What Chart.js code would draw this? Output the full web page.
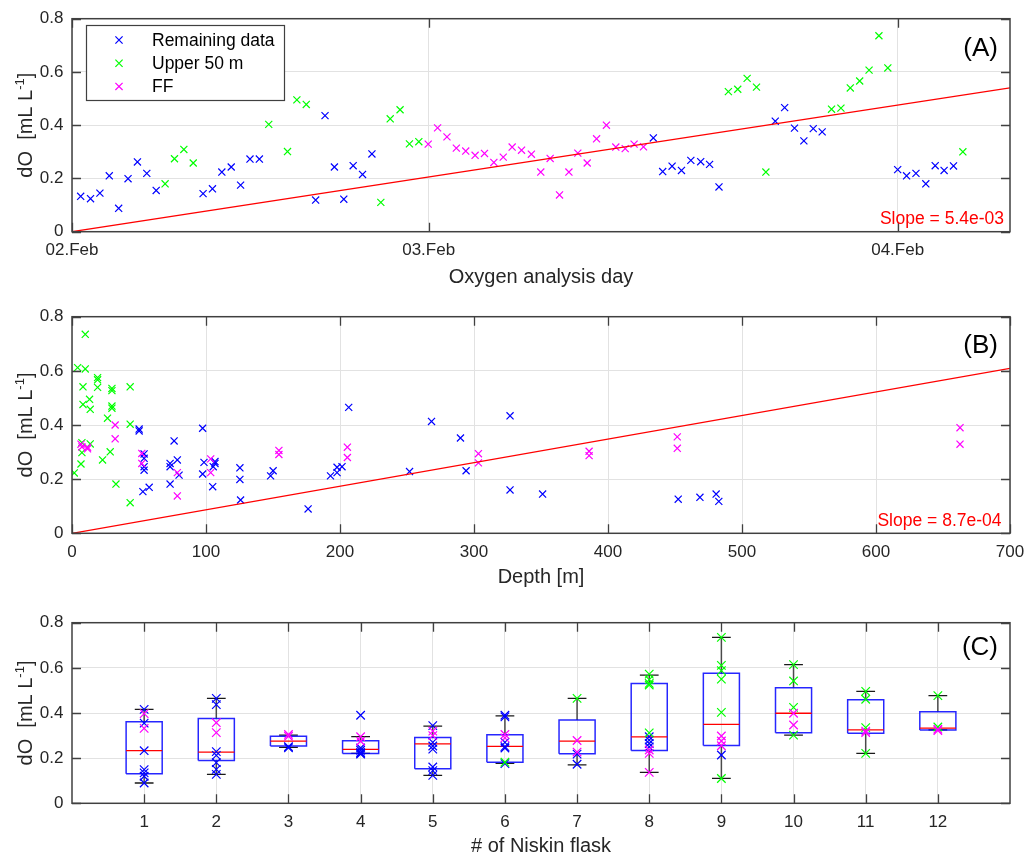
<!DOCTYPE html>
<html>
<head>
<meta charset="utf-8">
<script src="https://cdn.jsdelivr.net/npm/chart.js@4.4.1/dist/chart.umd.min.js"></script>
<style>
  html, body { margin: 0; padding: 0; background: #ffffff; }
  #wrap { position: relative; width: 1028px; height: 859px; overflow: hidden; }
  canvas { position: absolute; left: 0; }
</style>
</head>
<body>
<div id="wrap">
  <canvas id="cA" width="1028" height="290" style="top:0px;width:1028px;height:290px"></canvas>
  <canvas id="cB" width="1028" height="300" style="top:290px;width:1028px;height:300px"></canvas>
  <canvas id="cC" width="1028" height="269" style="top:590px;width:1028px;height:269px"></canvas>
</div>
<script>
// ---------- Panel A: dO against oxygen analysis time (day of February) ----------
const dayRemaining = [2.258, 2.279, 2.299, 2.319, 2.339, 2.359, 2.379, 2.399, 2.419,
  2.519, 2.539, 2.559, 2.579, 2.599, 2.619, 2.639,
  2.759, 2.779, 2.799, 2.819, 2.839, 2.859, 2.879,
  3.479, 3.499, 3.519, 3.539, 3.559, 3.580, 3.599, 3.619,
  3.739, 3.759, 3.780, 3.800, 3.820, 3.839,
  4.000, 4.019, 4.039, 4.060, 4.080, 4.099, 4.119];
const dORemaining = [0.133, 0.124, 0.145, 0.210, 0.088, 0.199, 0.262, 0.219, 0.155,
  0.143, 0.161, 0.224, 0.243, 0.175, 0.273, 0.273,
  0.119, 0.436, 0.243, 0.122, 0.248, 0.215, 0.292,
  0.352, 0.226, 0.246, 0.230, 0.268, 0.263, 0.253, 0.168,
  0.415, 0.466, 0.389, 0.341, 0.387, 0.375,
  0.233, 0.210, 0.219, 0.180, 0.248, 0.230, 0.247];

const dayUpper = [2.438, 2.458, 2.478, 2.498, 2.659, 2.699, 2.719, 2.739,
  2.898, 2.918, 2.939, 2.959, 2.979,
  3.639, 3.659, 3.679, 3.699, 3.719,
  3.859, 3.879, 3.899, 3.919, 3.939, 3.960, 3.979, 4.139];
const dOUpper = [0.180, 0.274, 0.309, 0.258, 0.403, 0.301, 0.495, 0.478,
  0.110, 0.424, 0.458, 0.330, 0.338,
  0.526, 0.535, 0.576, 0.543, 0.224,
  0.460, 0.464, 0.540, 0.566, 0.607, 0.736, 0.615, 0.300];

const dayFF = [2.999, 3.019, 3.039, 3.059, 3.079, 3.099, 3.119, 3.139, 3.159, 3.178,
  3.198, 3.219, 3.239, 3.259, 3.279, 3.299, 3.318, 3.338, 3.358, 3.379,
  3.399, 3.419, 3.438, 3.458];
const dOFF = [0.329, 0.390, 0.356, 0.314, 0.303, 0.287, 0.294, 0.260, 0.280, 0.318,
  0.306, 0.291, 0.224, 0.275, 0.138, 0.224, 0.295, 0.258, 0.349, 0.400,
  0.318, 0.312, 0.329, 0.319];

const dayRange = [2.2395, 4.2395];
const dayTicks = [2.2395, 3, 4];
const dayTickLabels = ['02.Feb', '03.Feb', '04.Feb'];
const slopeA = 5.4e-3;        // per sample
const sampleStepDays = 0.02;  // one sample every 0.02 day

// ---------- Panel B: dO against depth ----------
const depthRemaining = [50.1, 50.1, 53.8, 53.8, 53.8, 53.8, 52.9, 57.6, 73.2, 73.2,
  76.2, 78.6, 73.2, 79.9, 97.5, 97.5, 98.5, 105.0, 105.4, 106.7,
  106.7, 125.3, 125.3, 125.8, 148.2, 150.1, 176.2, 192.9, 197.8, 197.8,
  201.5, 206.5, 251.9, 268.3, 289.9, 294.1, 326.9, 326.9, 351.2, 452.4,
  468.6, 480.7, 482.7];
const dOByDepthRemaining = [0.385, 0.378, 0.293, 0.277, 0.246, 0.233, 0.154, 0.170, 0.258, 0.246,
  0.341, 0.271, 0.182, 0.215, 0.388, 0.219, 0.262, 0.172, 0.246, 0.258,
  0.265, 0.242, 0.199, 0.123, 0.212, 0.231, 0.090, 0.212, 0.224, 0.244,
  0.246, 0.465, 0.228, 0.413, 0.352, 0.231, 0.434, 0.160, 0.145, 0.126,
  0.133, 0.145, 0.118];

const depthUpper = [1.7, 4.2, 9.9, 9.9, 8.2, 8.2, 13.1, 13.6, 19.1, 19.1,
  19.1, 26.5, 29.8, 29.8, 29.8, 29.8, 43.4, 43.4, 43.4, 32.8,
  28.5, 22.8, 7.4, 7.4, 6.7, 13.6];
const dOByDepthUpper = [0.223, 0.612, 0.735, 0.607, 0.541, 0.476, 0.495, 0.458, 0.575, 0.567,
  0.539, 0.425, 0.535, 0.527, 0.470, 0.462, 0.541, 0.403, 0.113, 0.182,
  0.301, 0.271, 0.335, 0.298, 0.256, 0.330];

const depthFF = [6.7, 7.4, 11.6, 11.6, 32.2, 32.2, 52.1, 52.1, 78.6, 78.6,
  103.5, 103.5, 154.4, 154.4, 205.5, 205.5, 303.3, 303.3, 385.9, 385.9,
  451.7, 451.7, 662.7, 662.7];
const dOByDepthFF = [0.329, 0.319, 0.318, 0.312, 0.400, 0.349, 0.295, 0.258, 0.224, 0.138,
  0.275, 0.224, 0.306, 0.291, 0.318, 0.280, 0.294, 0.260, 0.303, 0.287,
  0.356, 0.314, 0.390, 0.329];

const depthRange = [0, 700];
const slopeB = 8.7e-4;        // per metre

// ---------- Panel C: box plots per Niskin flask ----------
const flaskNo = [1, 2, 3, 4, 5, 6, 7, 8, 9, 10, 11, 12];
const boxLow  = [0.090, 0.128, 0.248, 0.221, 0.124, 0.177, 0.170, 0.137, 0.110, 0.302, 0.221, 0.325];
const boxQ1   = [0.131, 0.190, 0.254, 0.221, 0.153, 0.182, 0.220, 0.234, 0.256, 0.313, 0.310, 0.325];
const boxMed  = [0.233, 0.227, 0.275, 0.239, 0.263, 0.252, 0.275, 0.294, 0.350, 0.399, 0.325, 0.333];
const boxQ3   = [0.361, 0.376, 0.297, 0.277, 0.291, 0.304, 0.369, 0.531, 0.576, 0.512, 0.459, 0.406];
const boxHigh = [0.416, 0.465, 0.302, 0.295, 0.342, 0.387, 0.465, 0.568, 0.735, 0.614, 0.496, 0.477];

const flaskRemaining = [1, 1, 1, 1, 1, 1, 1, 2, 2, 2, 2, 2, 2, 2, 3, 3, 4, 4, 4, 4, 4, 4,
  5, 5, 5, 5, 5, 5, 5, 6, 6, 6, 6, 6, 6, 7, 7, 8, 8, 8, 8, 9];
const dOFlaskRemaining = [0.416, 0.355, 0.233, 0.149, 0.135, 0.120, 0.090,
  0.465, 0.437, 0.229, 0.212, 0.180, 0.150, 0.128,
  0.251, 0.246,
  0.390, 0.245, 0.235, 0.225, 0.221, 0.218,
  0.344, 0.270, 0.254, 0.240, 0.161, 0.145, 0.124,
  0.390, 0.383, 0.270, 0.251, 0.245, 0.176,
  0.218, 0.173,
  0.295, 0.280, 0.265, 0.250,
  0.214];
const flaskUpper = [6, 7, 8, 8, 8, 8, 8, 9, 9, 9, 9, 9, 9, 10, 10, 10, 10, 11, 11, 11, 11, 12, 12];
const dOFlaskUpper = [0.182, 0.465, 0.572, 0.548, 0.531, 0.524, 0.312,
  0.735, 0.611, 0.588, 0.550, 0.403, 0.110,
  0.614, 0.542, 0.425, 0.302,
  0.496, 0.461, 0.335, 0.221,
  0.477, 0.338];
const flaskFF = [1, 1, 2, 2, 3, 3, 4, 4, 5, 5, 6, 6, 7, 7, 8, 8, 8, 9, 9, 9, 10, 10, 11, 11, 12, 12];
const dOFlaskFF = [0.397, 0.332, 0.357, 0.313, 0.305, 0.297, 0.295, 0.275, 0.320, 0.300,
  0.305, 0.290, 0.278, 0.227, 0.236, 0.221, 0.137, 0.298, 0.276, 0.255,
  0.399, 0.347, 0.320, 0.313, 0.328, 0.322];

const dORange = [0, 0.8];
const dOTickStep = 0.2;

// ---------- shared styling ----------
const FONT = "'Liberation Sans', Arial, Helvetica, sans-serif";
const TEXT = '#262626';
const AXIS = '#404040';
const GRID = '#e2e2e2';
const BLUE = '#0000ff', GREEN = '#00ff00', MAGENTA = '#ff00ff', RED = '#ff0000';
const seriesStyle = [
  { label: 'Remaining data', color: BLUE },
  { label: 'Upper 50 m', color: GREEN },
  { label: 'FF', color: MAGENTA }
];

Chart.defaults.font.family = FONT;
Chart.defaults.color = TEXT;

const pts = (xs, ys) => xs.map((x, i) => ({ x: x, y: ys[i] }));
const matlabExp = v => {
  const [m, e] = v.toExponential(1).split('e');
  const n = Math.abs(parseInt(e, 10));
  return m + 'e' + (e[0] === '-' ? '-' : '+') + String(n).padStart(2, '0');
};

function scatterSet(label, color, data, order, radius) {
  return {
    type: 'scatter', label: label, data: data, order: order,
    pointStyle: 'crossRot', pointRadius: radius, pointHoverRadius: radius,
    borderColor: color, backgroundColor: color, borderWidth: 1.2, showLine: false
  };
}
function lineSet(data, color, width, order) {
  return {
    type: 'scatter', data: data, order: order, showLine: true, spanGaps: false,
    pointRadius: 0, pointHoverRadius: 0, borderColor: color, backgroundColor: color,
    borderWidth: width, fill: false
  };
}

function yScale() {
  return {
    type: 'linear', min: dORange[0], max: dORange[1],
    ticks: { stepSize: dOTickStep, padding: 8.5, color: TEXT, font: { size: 17 },
      callback: v => (Math.abs(v) < 1e-9 ? '0' : v.toFixed(1)) },
    grid: { color: GRID, lineWidth: 1, drawTicks: false },
    border: { display: false },
    afterFit: s => { s.width = 72; }
  };
}
function xScale(opts) {
  const ticks = { padding: 8.5, color: TEXT, font: { size: 17 }, maxRotation: 0, minRotation: 0, autoSkip: false };
  if (opts.labels) ticks.callback = (v, i) => opts.labels[i];
  return Object.assign({
    type: 'linear',
    ticks: ticks,
    grid: { color: GRID, lineWidth: 1, drawTicks: false },
    border: { display: false },
    title: { display: true, text: opts.title, color: TEXT, font: { size: 20 }, padding: { top: 0, bottom: 1 } }
  }, opts.extra, {
    afterFit: s => { s.height = opts.height; s.paddingLeft = 0; s.paddingRight = 0; }
  });
}

// draws the axes box, inward tick marks, y-axis label and panel annotations
function decorPlugin(cfg) {
  return {
    id: 'decor' + cfg.tag,
    afterDraw(chart) {
      const ctx = chart.ctx;
      const a = chart.chartArea;
      const xs = chart.scales.x, ys = chart.scales.y;
      ctx.save();
      // inward ticks
      ctx.strokeStyle = AXIS;
      ctx.lineWidth = 1.3;
      ctx.beginPath();
      xs.ticks.forEach((t, i) => {
        const p = Math.round(xs.getPixelForTick(i)) + 0.5;
        ctx.moveTo(p, a.bottom); ctx.lineTo(p, a.bottom - 9);
        ctx.moveTo(p, a.top); ctx.lineTo(p, a.top + 9);
      });
      ys.ticks.forEach((t, i) => {
        const p = Math.round(ys.getPixelForTick(i)) + 0.5;
        ctx.moveTo(a.left, p); ctx.lineTo(a.left + 9, p);
        ctx.moveTo(a.right, p); ctx.lineTo(a.right - 9, p);
      });
      ctx.stroke();
      // box
      ctx.lineWidth = 1.5;
      ctx.strokeRect(a.left, a.top, a.right - a.left, a.bottom - a.top);

      // y-axis label with superscript
      ctx.fillStyle = TEXT;
      ctx.translate(24.5, (a.top + a.bottom) / 2);
      ctx.rotate(-Math.PI / 2);
      const mainFont = '20px ' + FONT, supFont = '13px ' + FONT;
      const p1 = 'dO  [mL L', p2 = '-1', p3 = ']';
      ctx.font = mainFont; const w1 = ctx.measureText(p1).width, w3 = ctx.measureText(p3).width;
      ctx.font = supFont; const w2 = ctx.measureText(p2).width;
      let x0 = -(w1 + w2 + w3) / 2;
      ctx.textBaseline = 'alphabetic';
      ctx.textAlign = 'left';
      ctx.font = mainFont; ctx.fillText(p1, x0, 7);
      ctx.font = supFont; ctx.fillText(p2, x0 + w1, -1);
      ctx.font = mainFont; ctx.fillText(p3, x0 + w1 + w2, 7);
      ctx.setTransform(1, 0, 0, 1, 0, 0);

      // panel letter
      ctx.font = '26px ' + FONT;
      ctx.fillStyle = '#000000';
      ctx.textAlign = 'right';
      ctx.textBaseline = 'middle';
      ctx.fillText(cfg.letter, a.right - 12, a.top + cfg.letterDy);

      // slope annotation
      if (cfg.slopeText) {
        ctx.font = '17.5px ' + FONT;
        ctx.fillStyle = RED;
        ctx.fillText(cfg.slopeText, a.right - cfg.slopeDx, a.bottom - cfg.slopeDy);
      }

      // legend
      if (cfg.legend) {
        const L = cfg.legend;
        ctx.fillStyle = '#ffffff';
        ctx.fillRect(L.x, L.y, L.w, L.h);
        ctx.strokeStyle = AXIS;
        ctx.lineWidth = 1.2;
        ctx.strokeRect(L.x + 0.5, L.y + 0.5, L.w, L.h);
        ctx.font = '17.5px ' + FONT;
        ctx.textAlign = 'left';
        ctx.textBaseline = 'middle';
        seriesStyle.forEach((s, i) => {
          const cy = L.y + 15 + i * 23.2;
          const cx = L.x + 33;
          ctx.strokeStyle = s.color;
          ctx.lineWidth = 1.2;
          ctx.beginPath();
          ctx.moveTo(cx - 3.6, cy - 3.6); ctx.lineTo(cx + 3.6, cy + 3.6);
          ctx.moveTo(cx - 3.6, cy + 3.6); ctx.lineTo(cx + 3.6, cy - 3.6);
          ctx.stroke();
          ctx.fillStyle = '#000000';
          ctx.fillText(s.label, L.x + 66, cy + 1);
        });
      }
      ctx.restore();
    }
  };
}

const baseOptions = (padTop, scales) => ({
  responsive: false, animation: false, devicePixelRatio: 1,
  layout: { padding: { top: padTop, right: 18, bottom: 0, left: 0 } },
  plugins: { legend: { display: false }, tooltip: { enabled: false } },
  events: [],
  scales: scales
});

// ---------- Panel A ----------
const trendAEnd = slopeA / sampleStepDays * (dayRange[1] - dayRange[0]);
new Chart(document.getElementById('cA'), {
  type: 'scatter',
  data: {
    datasets: [
      lineSet([{ x: dayRange[0], y: 0 }, { x: dayRange[1], y: trendAEnd }], RED, 1.2, 0),
      scatterSet(seriesStyle[2].label, MAGENTA, pts(dayFF, dOFF), 1, 5),
      scatterSet(seriesStyle[1].label, GREEN, pts(dayUpper, dOUpper), 2, 5),
      scatterSet(seriesStyle[0].label, BLUE, pts(dayRemaining, dORemaining), 3, 5)
    ]
  },
  options: baseOptions(14.5, {
    x: xScale({
      title: 'Oxygen analysis day', height: 58.3, labels: dayTickLabels,
      extra: {
        min: dayRange[0], max: dayRange[1],
        afterBuildTicks: s => { s.ticks = dayTicks.map(v => ({ value: v })); }
      }
    }),
    y: yScale()
  }),
  plugins: [decorPlugin({
    tag: 'A', letter: '(A)', letterDy: 30,
    slopeText: 'Slope = ' + matlabExp(slopeA), slopeDx: 6, slopeDy: 12.5,
    legend: { x: 86, y: 25, w: 198, h: 75 }
  })]
});

// ---------- Panel B ----------
new Chart(document.getElementById('cB'), {
  type: 'scatter',
  data: {
    datasets: [
      lineSet([{ x: depthRange[0], y: slopeB * depthRange[0] }, { x: depthRange[1], y: slopeB * depthRange[1] }], RED, 1.2, 0),
      scatterSet(seriesStyle[2].label, MAGENTA, pts(depthFF, dOByDepthFF), 1, 5),
      scatterSet(seriesStyle[1].label, GREEN, pts(depthUpper, dOByDepthUpper), 2, 5),
      scatterSet(seriesStyle[0].label, BLUE, pts(depthRemaining, dOByDepthRemaining), 3, 5)
    ]
  },
  options: baseOptions(26.7, {
    x: xScale({
      title: 'Depth [m]', height: 56.7,
      extra: { min: depthRange[0], max: depthRange[1] }
    }),
    y: yScale()
  }),
  plugins: [decorPlugin({
    tag: 'B', letter: '(B)', letterDy: 29,
    slopeText: 'Slope = ' + matlabExp(slopeB), slopeDx: 8.5, slopeDy: 12.5
  })]
});

// ---------- Panel C ----------
const GAP = x => ({ x: x, y: null });
const boxOutline = [], boxMedian = [], boxWhisk = [], boxCaps = [];
flaskNo.forEach((f, i) => {
  const hw = 0.25, cw = 0.13;
  boxOutline.push({ x: f - hw, y: boxQ1[i] }, { x: f + hw, y: boxQ1[i] }, { x: f + hw, y: boxQ3[i] },
    { x: f - hw, y: boxQ3[i] }, { x: f - hw, y: boxQ1[i] }, GAP(f));
  boxMedian.push({ x: f - hw, y: boxMed[i] }, { x: f + hw, y: boxMed[i] }, GAP(f));
  boxWhisk.push({ x: f, y: boxQ3[i] }, { x: f, y: boxHigh[i] }, GAP(f),
    { x: f, y: boxLow[i] }, { x: f, y: boxQ1[i] }, GAP(f));
  boxCaps.push({ x: f - cw, y: boxHigh[i] }, { x: f + cw, y: boxHigh[i] }, GAP(f),
    { x: f - cw, y: boxLow[i] }, { x: f + cw, y: boxLow[i] }, GAP(f));
});

new Chart(document.getElementById('cC'), {
  type: 'scatter',
  data: {
    datasets: [
      scatterSet(seriesStyle[2].label, MAGENTA, pts(flaskFF, dOFlaskFF), 1, 6),
      scatterSet(seriesStyle[1].label, GREEN, pts(flaskUpper, dOFlaskUpper), 2, 6),
      scatterSet(seriesStyle[0].label, BLUE, pts(flaskRemaining, dOFlaskRemaining), 3, 6),
      lineSet(boxMedian, RED, 1.3, 4),
      lineSet(boxOutline, 'rgba(0,0,255,0.85)', 1.5, 5),
      lineSet(boxCaps, '#1a1a1a', 1.3, 6),
      lineSet(boxWhisk, '#4a4a4a', 1.5, 7)
    ]
  },
  options: baseOptions(32.7, {
    x: xScale({
      title: '# of Niskin flask', height: 55.7,
      extra: {
        min: 0, max: 13,
        afterBuildTicks: s => { s.ticks = flaskNo.map(v => ({ value: v })); }
      }
    }),
    y: yScale()
  }),
  plugins: [decorPlugin({ tag: 'C', letter: '(C)', letterDy: 25.5 })]
});
</script>
</body>
</html>
